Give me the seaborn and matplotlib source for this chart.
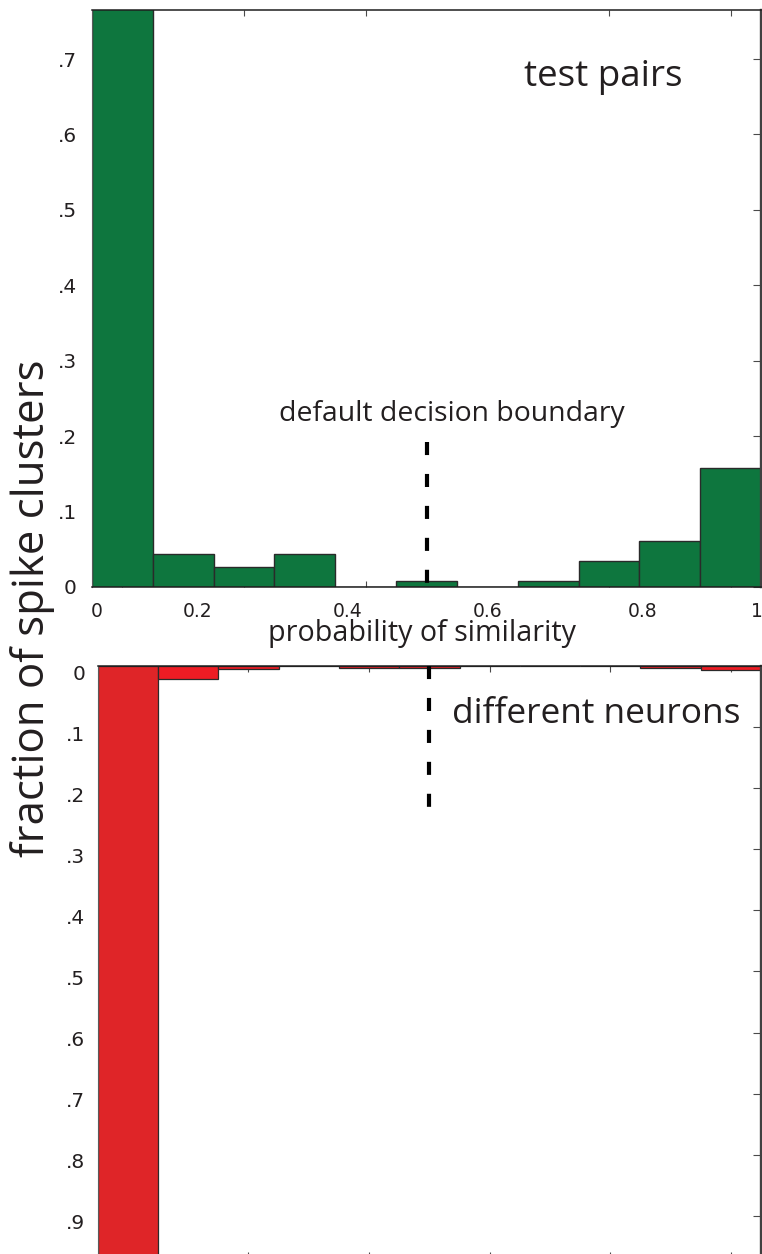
import numpy as np
import pandas as pd
import matplotlib
matplotlib.use("Agg")
import matplotlib.pyplot as plt
from matplotlib.ticker import FixedLocator, NullFormatter
from matplotlib.transforms import ScaledTranslation
import seaborn as sns

# Histogram bin centres on the probability-of-similarity axis
bin_centers = [0.0, 0.1, 0.2, 0.3, 0.4, 0.5, 0.6, 0.7, 0.8, 0.9, 1.0]
# Fraction of spike clusters in each bin
test_pairs = [0.77, 0.044, 0.026, 0.044, 0.0, 0.008, 0.0, 0.008, 0.034, 0.061, 0.158]
different_neurons = [0.97, 0.022, 0.005, 0.0, 0.003, 0.003, 0.0, 0.0, 0.0, 0.003, 0.007]

decision_boundary = 0.5

x_tick_values = [0.0, 0.2, 0.4, 0.6, 0.8, 1.0]
x_tick_labels = ["0", "0.2", "0.4", "0.6", "0.8", "1"]
top_y_ticks = [0.0, 0.1, 0.2, 0.3, 0.4, 0.5, 0.6, 0.7]
top_y_labels = ["0", ".1", ".2", ".3", ".4", ".5", ".6", ".7"]
bottom_y_ticks = [0.0, 0.1, 0.2, 0.3, 0.4, 0.5, 0.6, 0.7, 0.8, 0.9]
bottom_y_labels = ["0", ".1", ".2", ".3", ".4", ".5", ".6", ".7", ".8", ".9"]

# where the x labels sit under the upper panel (data units)
x_label_slots = [-0.042, 0.124, 0.371, 0.600, 0.856, 1.044]

sns.set_style("white")
plt.rcParams["font.family"] = ["Open Sans", "DejaVu Sans"]
plt.rcParams["lines.scale_dashes"] = False

GREEN = "#0e763e"
RED_MAIN = "#df2528"
RED_REST = "#ed1c24"
EDGE = "#2a2a2a"
INK = "#231f20"
TICK = "#4a4a4a"
TEXT_FONT = ["Open Sans", "DejaVu Sans"]
NUM_FONT = ["DejaVu Sans"]

W, H = 762, 1254
fig = plt.figure(figsize=(W / 100, H / 100), dpi=100)
fig.patch.set_facecolor("white")

ax_top = fig.add_axes([92 / W, (H - 587) / H, 669 / W, 577 / H])
ax_bot = fig.add_axes([97.7 / W, -4 / H, 663.3 / W, 592 / H])

n_bins = len(bin_centers)
bin_range = (-0.05, 1.05)
top_df = pd.DataFrame({"similarity": bin_centers, "fraction": test_pairs})
bot_df = pd.DataFrame({"similarity": bin_centers, "fraction": different_neurons})

sns.histplot(data=top_df, x="similarity", weights="fraction", bins=n_bins,
             binrange=bin_range, ax=ax_top, color=GREEN, edgecolor=EDGE,
             linewidth=1.0, alpha=1.0)
sns.histplot(data=bot_df, x="similarity", weights="fraction", bins=n_bins,
             binrange=bin_range, ax=ax_bot, color=RED_REST, edgecolor=EDGE,
             linewidth=0.9, alpha=1.0)
ax_bot.patches[0].set_facecolor(RED_MAIN)

for ax in (ax_top, ax_bot):
    ax.set_xlabel("")
    ax.set_ylabel("")
    ax.set_xlim(-0.05, 1.05)
    ax.set_facecolor("white")
    ax.spines["left"].set_color("#5a5a5a")
    ax.spines["left"].set_linewidth(0.8)
    ax.spines["top"].set_color("#1e1e1e")
    ax.spines["top"].set_linewidth(1.1)
    ax.spines["right"].set_color("#404040")
    ax.spines["right"].set_linewidth(1.7)
    ax.spines["bottom"].set_color("#1e1e1e")
    ax.spines["bottom"].set_linewidth(1.1)
    # real tick marks at the bin grid, inward, top and bottom
    ax.xaxis.set_minor_locator(FixedLocator(x_tick_values))
    ax.xaxis.set_minor_formatter(NullFormatter())
    ax.tick_params(axis="x", which="minor", direction="in", length=4.2, width=0.8,
                   color=TICK, top=True, bottom=True)
    ax.tick_params(axis="y", which="major", direction="in", length=5.8, width=0.8,
                   color=TICK, left=False, right=True, labelleft=True, labelright=False,
                   labelsize=14.5, labelcolor=INK)

# upper panel
ax_top.set_ylim(0, 0.765)
ax_top.set_yticks(top_y_ticks)
ax_top.set_yticklabels(top_y_labels, fontfamily=NUM_FONT)
ax_top.tick_params(axis="y", pad=11)
ax_top.set_xticks(x_label_slots)
ax_top.set_xticklabels(x_tick_labels, fontfamily=NUM_FONT)
ax_top.tick_params(axis="x", which="major", length=0, pad=11, labelsize=13.5,
                   labelcolor=INK, top=False)

# lower panel (values hang downward)
ax_bot.set_ylim(0.969, 0)
ax_bot.set_yticks(bottom_y_ticks)
ax_bot.set_yticklabels(bottom_y_labels, fontfamily=NUM_FONT)
ax_bot.tick_params(axis="y", pad=9)
ax_bot.set_xticks([])
nudge = ScaledTranslation(0, -6 / 100, fig.dpi_scale_trans)
for lab in ax_bot.get_yticklabels():
    lab.set_transform(lab.get_transform() + nudge)

# decision boundary markers
dash = (0, (9.4, 13.6))
ax_top.plot([decision_boundary, decision_boundary], [0.192, 0.0], color="black",
            lw=3.0, ls=dash, dash_capstyle="butt", zorder=4)
ax_bot.plot([decision_boundary, decision_boundary], [0.0, 0.239], color="black",
            lw=3.0, ls=dash, dash_capstyle="butt", zorder=4)

# annotations
ax_top.text(0.764, 0.868, "test pairs", transform=ax_top.transAxes, ha="center",
            va="baseline", fontsize=26.5, color=INK, fontfamily=TEXT_FONT)
ax_top.text(0.538, 0.288, "default decision boundary", transform=ax_top.transAxes,
            ha="center", va="baseline", fontsize=20.4, color=INK, fontfamily=TEXT_FONT)
ax_bot.text(0.752, 0.904, "different neurons", transform=ax_bot.transAxes, ha="center",
            va="baseline", fontsize=25.4, color=INK, fontfamily=TEXT_FONT)
fig.text(422 / W, 1 - 641 / H, "probability of similarity", ha="center", va="baseline",
         fontsize=20.6, color=INK, fontfamily=TEXT_FONT)
fig.text(33 / W, 1 - 608 / H, "fraction of spike clusters", rotation=90, ha="center",
         va="center", fontsize=31.5, color=INK, fontfamily=TEXT_FONT)

fig.savefig("out.png", dpi=100, facecolor="white")
